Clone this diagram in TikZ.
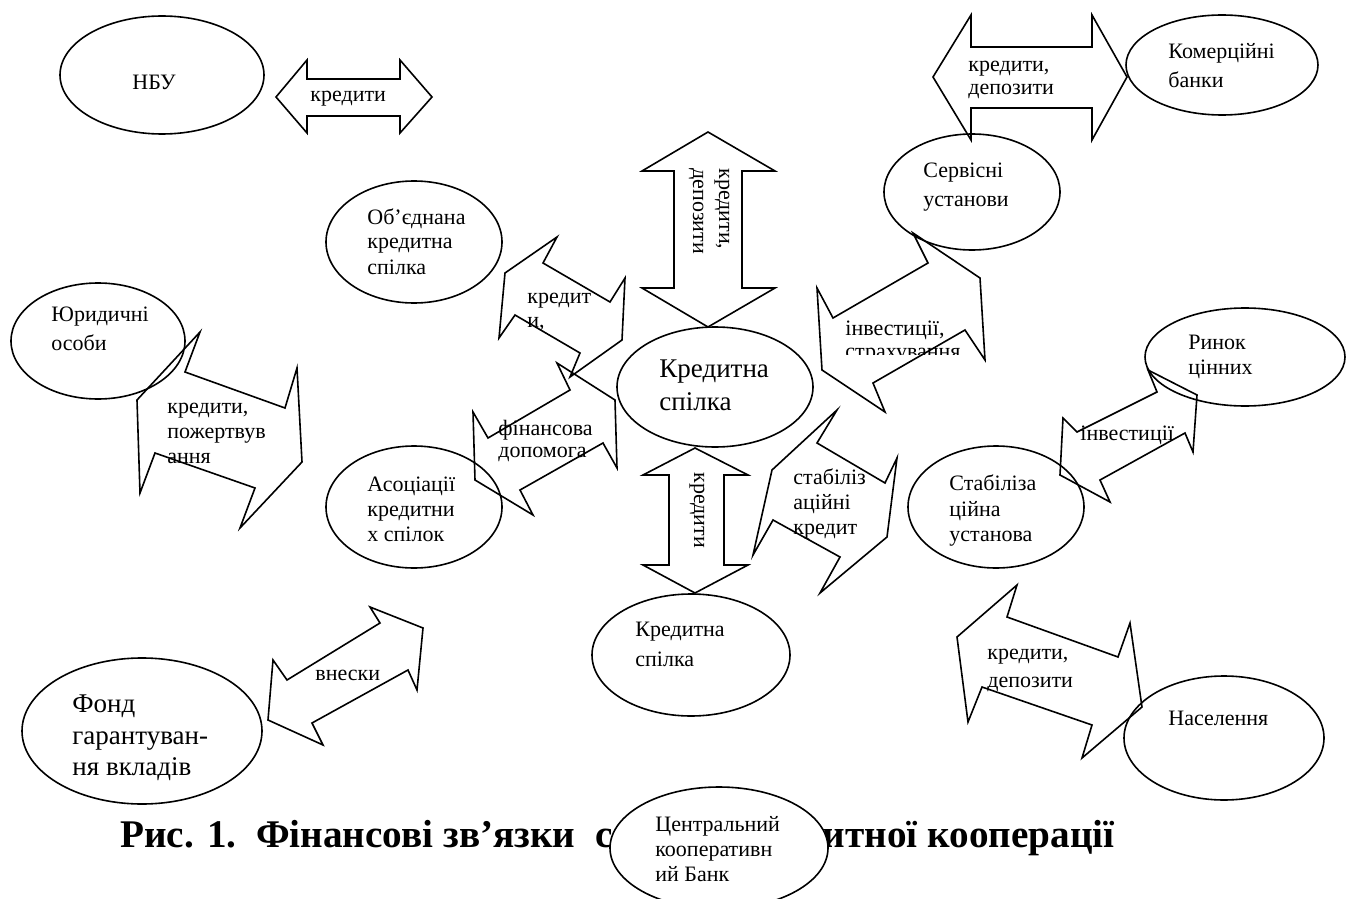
\documentclass[tikz,border=0pt]{standalone}
\usepackage{fontspec}
\setmainfont{Liberation Serif}
\usetikzlibrary{shapes.geometric}
\begin{document}
\begin{tikzpicture}[x=0.5pt,y=-0.5pt,
  ell/.style={draw, ellipse, line width=0.8pt, inner sep=0pt},
  blk/.style={draw, line width=0.8pt, line join=miter},
  lbl/.style={anchor=base west, inner sep=0pt, font=\fontsize{11}{13}\selectfont},
  big/.style={anchor=base west, inner sep=0pt, font=\fontsize{13.5}{16}\selectfont},
  captxt/.style={inner sep=0pt, font=\bfseries\fontsize{19.6}{22}\selectfont}]
\useasboundingbox (0,0) rectangle (1350,899);

% caption (partly hidden by the ellipse of the central bank)
\node[captxt, anchor=base west] (capL) at (120,847) {Рис. 1.\ \ Фінансові зв’язки\ \ с};
\node[captxt, anchor=base east] (capR) at (1115,847) {итної кооперації};

% ellipses
\node[ell, minimum width=102pt, minimum height=59pt] (nbu) at (162,75) {};
\node[ell, minimum width=96pt, minimum height=50pt] (kb) at (1222,65) {};
\node[ell, minimum width=88pt, minimum height=58pt] (serv) at (972,192) {};
\node[ell, minimum width=88pt, minimum height=61pt] (obed) at (414,242) {};
\node[ell, minimum width=87pt, minimum height=58pt] (jur) at (98,341) {};
\node[ell, minimum width=88pt, minimum height=61pt] (asoc) at (414,507) {};
\node[ell, minimum width=98pt, minimum height=60pt] (ks) at (715,387) {};
\node[ell, minimum width=99pt, minimum height=61pt] (ks2) at (691,655) {};
\node[ell, fill=white, minimum width=109pt, minimum height=61pt] (ckb) at (719,848) {};
\node[ell, minimum width=100pt, minimum height=49pt] (rynok) at (1245,357) {};
\node[ell, minimum width=88pt, minimum height=61pt] (stab) at (996,507) {};
\node[ell, minimum width=100pt, minimum height=62pt] (nas) at (1224,738) {};
\node[ell, minimum width=120pt, minimum height=73pt] (fond) at (142,731) {};

% ellipse texts
\node[lbl] (tnbu) at (132,90) {НБУ};
\node[lbl] (tkb1) at (1168,59) {Комерційні};
\node[lbl] (tkb2) at (1168,88) {банки};
\node[lbl] (tserv1) at (923,177) {Сервісні};
\node[lbl] (tserv2) at (923,206) {установи};
\node[lbl] (tob1) at (367,224) {Об’єднана};
\node[lbl] (tob2) at (367,249) {кредитна};
\node[lbl] (tob3) at (367,274) {спілка};
\node[lbl] (tjur1) at (51,321) {Юридичні};
\node[lbl] (tjur2) at (51,350) {особи};
\node[lbl] (tas1) at (367,491) {Асоціації};
\node[lbl] (tas2) at (367,516) {кредитни};
\node[lbl] (tas3) at (367,541) {х спілок};
\node[big] (tks1) at (659,377) {Кредитна};
\node[big] (tks2) at (659,410) {спілка};
\node[lbl] (tks21) at (635,636) {Кредитна};
\node[lbl] (tks22) at (635,666) {спілка};
\node[lbl] (tckb1) at (655,831) {Центральний};
\node[lbl] (tckb2) at (655,856) {кооперативн};
\node[lbl] (tckb3) at (655,881) {ий Банк};
\node[lbl] (tryn1) at (1188,349) {Ринок};
\node[lbl] (tryn2) at (1188,374) {цінних};
\node[lbl] (tst1) at (949,490) {Стабіліза};
\node[lbl] (tst2) at (949,516) {ційна};
\node[lbl] (tst3) at (949,541) {установа};
\node[lbl] (tnas) at (1168,725) {Населення};
\node[big] (tf1) at (72,712) {Фонд};
\node[big] (tf2) at (72,744) {гарантуван-};
\node[big] (tf3) at (72,775) {ня вкладів};

% block arrows
\draw[blk] (276,97) -- (307,60) -- (307,79) -- (400,79) -- (400,60) -- (432,97) -- (400,133) -- (400,116) -- (307,116) -- (307,133) -- cycle;
\draw[blk] (933,77) -- (971,15) -- (971,47) -- (1092,47) -- (1092,15) -- (1127,77) -- (1092,140) -- (1092,108) -- (971,108) -- (971,140) -- cycle;
\draw[blk] (708,132) -- (775,171) -- (742,171) -- (742,288) -- (775,288) -- (708,327) -- (642,288) -- (674,288) -- (674,171) -- (642,171) -- cycle;
\draw[blk] (695,448) -- (748,475) -- (724,475) -- (724,565) -- (748,565) -- (695,593) -- (643,565) -- (669,565) -- (669,475) -- (643,475) -- cycle;
\draw[blk] (200,332) -- (185,372) -- (285,408) -- (297,368) -- (302,462) -- (240,528) -- (255,488) -- (155,453) -- (140,493) -- (137,400) -- cycle;
\draw[blk] (557,237) -- (543,263) -- (610,302) -- (625,278) -- (622,340) -- (570,377) -- (580,353) -- (515,315) -- (499,338) -- (505,273) -- cycle;
\draw[blk] (557,363) -- (570,390) -- (488,438) -- (473,412) -- (475,480) -- (533,515) -- (520,490) -- (603,443) -- (617,468) -- (615,400) -- cycle;
\draw[blk] (913,233) -- (928,263) -- (833,318) -- (817,288) -- (822,370) -- (885,412) -- (873,383) -- (965,330) -- (985,360) -- (980,278) -- cycle;
\draw[blk] (837,410) -- (817,443) -- (885,483) -- (897,458) -- (887,537) -- (820,593) -- (840,557) -- (773,520) -- (753,555) -- (772,470) -- cycle;
\draw[blk] (1148,370) -- (1157,392) -- (1077,432) -- (1063,418) -- (1060,475) -- (1110,502) -- (1100,480) -- (1185,433) -- (1193,452) -- (1197,395) -- cycle;
\draw[blk] (1017,585) -- (1007,617) -- (1118,657) -- (1130,623) -- (1142,707) -- (1082,758) -- (1092,725) -- (982,687) -- (968,722) -- (957,637) -- cycle;
\draw[blk] (370,607) -- (380,623) -- (287,680) -- (273,660) -- (268,720) -- (323,745) -- (312,723) -- (408,670) -- (417,690) -- (423,628) -- cycle;

% arrow labels
\node[lbl] (a1) at (310,102) {кредити};
\node[lbl] (a2a) at (968,72) {кредити,};
\node[lbl] (a2b) at (968,95) {депозити};
\node[lbl, rotate=-90] (a3a) at (719,168) {кредити,};
\node[lbl, rotate=-90] (a3b) at (693,168) {депозити};
\node[lbl, rotate=-90] (a4) at (694,472) {кредити};
\node[lbl] (a5a) at (167,413) {кредити,};
\node[lbl] (a5b) at (167,438) {пожертвув};
\node[lbl] (a5c) at (167,463) {ання};
\node[lbl] (a6a) at (527,303) {кредит};
\node[lbl] (a6b) at (527,327) {и,};
\node[lbl] (a7a) at (498,435) {фінансова};
\node[lbl] (a7b) at (498,457) {допомога};
\node[lbl] (a8a) at (845,335) {інвестиції,};
\begin{scope}
\clip (830,340) rectangle (990,354);
\node[lbl] (a8b) at (845,358) {страхування};
\end{scope}
\node[lbl] (a9a) at (793,484) {стабіліз};
\node[lbl] (a9b) at (793,509) {аційні};
\node[lbl] (a9c) at (793,534) {кредит};
\node[lbl] (a10) at (1080,440) {інвестиції};
\node[lbl] (a11a) at (987,659) {кредити,};
\node[lbl] (a11b) at (987,687) {депозити};
\node[lbl] (a12) at (315,680) {внески};
\end{tikzpicture}
\end{document}
